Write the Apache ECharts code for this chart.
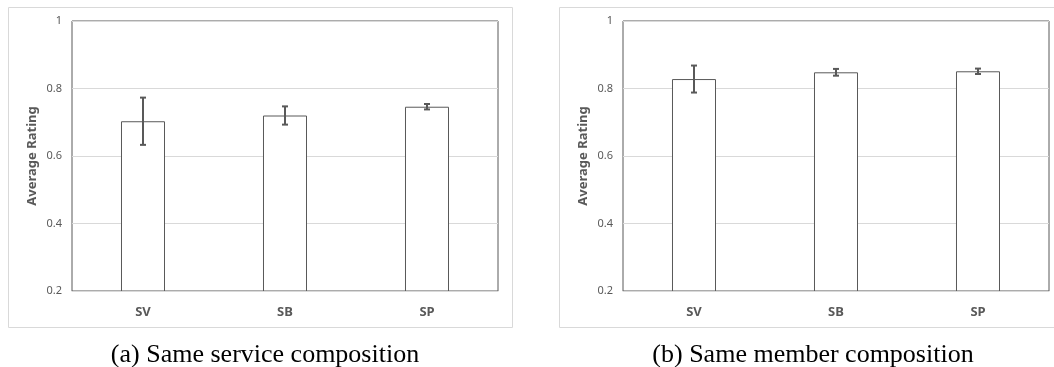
<!DOCTYPE html>
<html>
<head>
<meta charset="utf-8">
<script src="https://cdn.jsdelivr.net/npm/echarts@6/dist/echarts.min.js"></script>
<style>
  html, body { margin: 0; padding: 0; background: #fff; }
  #chart { width: 1054px; height: 367px; }
</style>
</head>
<body>
<div id="chart"></div>
<script>
// data
var categories = ['SV', 'SB', 'SP']
var serviceMean = [0.703, 0.720, 0.746]
var serviceErr = [0.070, 0.027, 0.008]
var memberMean = [0.828, 0.848, 0.851]
var memberErr = [0.040, 0.010, 0.008]
var yTicks = [0.2, 0.4, 0.6, 0.8, 1]

var grey = '#595959'
var light = '#d9d9d9'

function errorSeries(idx, mean, err) {
  return {
    type: 'custom',
    xAxisIndex: idx,
    yAxisIndex: idx,
    z: 5,
    data: mean.map(function (m, i) { return [i, m - err[i], m + err[i]] }),
    renderItem: function (params, api) {
      var lo = api.coord([api.value(0), api.value(1)])
      var hi = api.coord([api.value(0), api.value(2)])
      var half = 3
      var st = { stroke: grey, lineWidth: 2 }
      return {
        type: 'group',
        children: [
          { type: 'line', shape: { x1: lo[0], y1: lo[1], x2: hi[0], y2: hi[1] }, style: st },
          { type: 'line', shape: { x1: hi[0] - half, y1: hi[1], x2: hi[0] + half, y2: hi[1] }, style: st },
          { type: 'line', shape: { x1: lo[0] - half, y1: lo[1], x2: lo[0] + half, y2: lo[1] }, style: st }
        ]
      }
    }
  }
}

function xAxis(idx) {
  return {
    type: 'category',
    gridIndex: idx,
    data: categories,
    axisLine: { lineStyle: { color: light, width: 1 } },
    axisTick: { show: false },
    axisLabel: { color: grey, fontWeight: 'bold', fontSize: 13, margin: 15, fontFamily: 'Noto Sans' },
    z: 10
  }
}

function yAxis(idx) {
  return {
    type: 'value',
    gridIndex: idx,
    min: yTicks[0],
    max: yTicks[yTicks.length - 1],
    interval: 0.2,
    name: 'Average Rating',
    nameLocation: 'middle',
    nameGap: 33,
    nameTextStyle: { color: grey, fontWeight: 'bold', fontSize: 13, fontFamily: 'Noto Sans' },
    axisLine: { show: false },
    axisTick: { show: false },
    axisLabel: { color: grey, fontSize: 11, margin: 10, fontFamily: 'Noto Sans' },
    splitLine: { lineStyle: { color: light, width: 1 } }
  }
}

function barSeries(idx, mean) {
  return {
    type: 'bar',
    xAxisIndex: idx,
    yAxisIndex: idx,
    data: mean,
    barWidth: '31%',
    itemStyle: { color: '#fff', borderColor: grey, borderWidth: 1 },
    silent: true
  }
}

var chart = echarts.init(document.getElementById('chart'))
chart.setOption({
  animation: false,
  grid: [
    { left: 72, top: 21, width: 426, height: 270, show: true, borderColor: grey, borderWidth: 1, backgroundColor: 'transparent' },
    { left: 623, top: 21, width: 426, height: 270, show: true, borderColor: grey, borderWidth: 1, backgroundColor: 'transparent' }
  ],
  title: [
    { text: '(a) Same service composition', left: 260, top: 337, textAlign: 'center',
      textStyle: { fontFamily: 'Liberation Serif', fontWeight: 'normal', fontSize: 26, color: '#000' } },
    { text: '(b) Same member composition', left: 808, top: 337, textAlign: 'center',
      textStyle: { fontFamily: 'Liberation Serif', fontWeight: 'normal', fontSize: 26, color: '#000' } }
  ],
  graphic: [
    { type: 'rect', shape: { x: 8.5, y: 7.5, width: 504, height: 320 }, style: { fill: 'none', stroke: light, lineWidth: 1 }, z: -1 },
    { type: 'rect', shape: { x: 559.5, y: 7.5, width: 504, height: 320 }, style: { fill: 'none', stroke: light, lineWidth: 1 }, z: -1 }
  ],
  xAxis: [xAxis(0), xAxis(1)],
  yAxis: [yAxis(0), yAxis(1)],
  series: [
    barSeries(0, serviceMean),
    errorSeries(0, serviceMean, serviceErr),
    barSeries(1, memberMean),
    errorSeries(1, memberMean, memberErr)
  ]
})
</script>
</body>
</html>
